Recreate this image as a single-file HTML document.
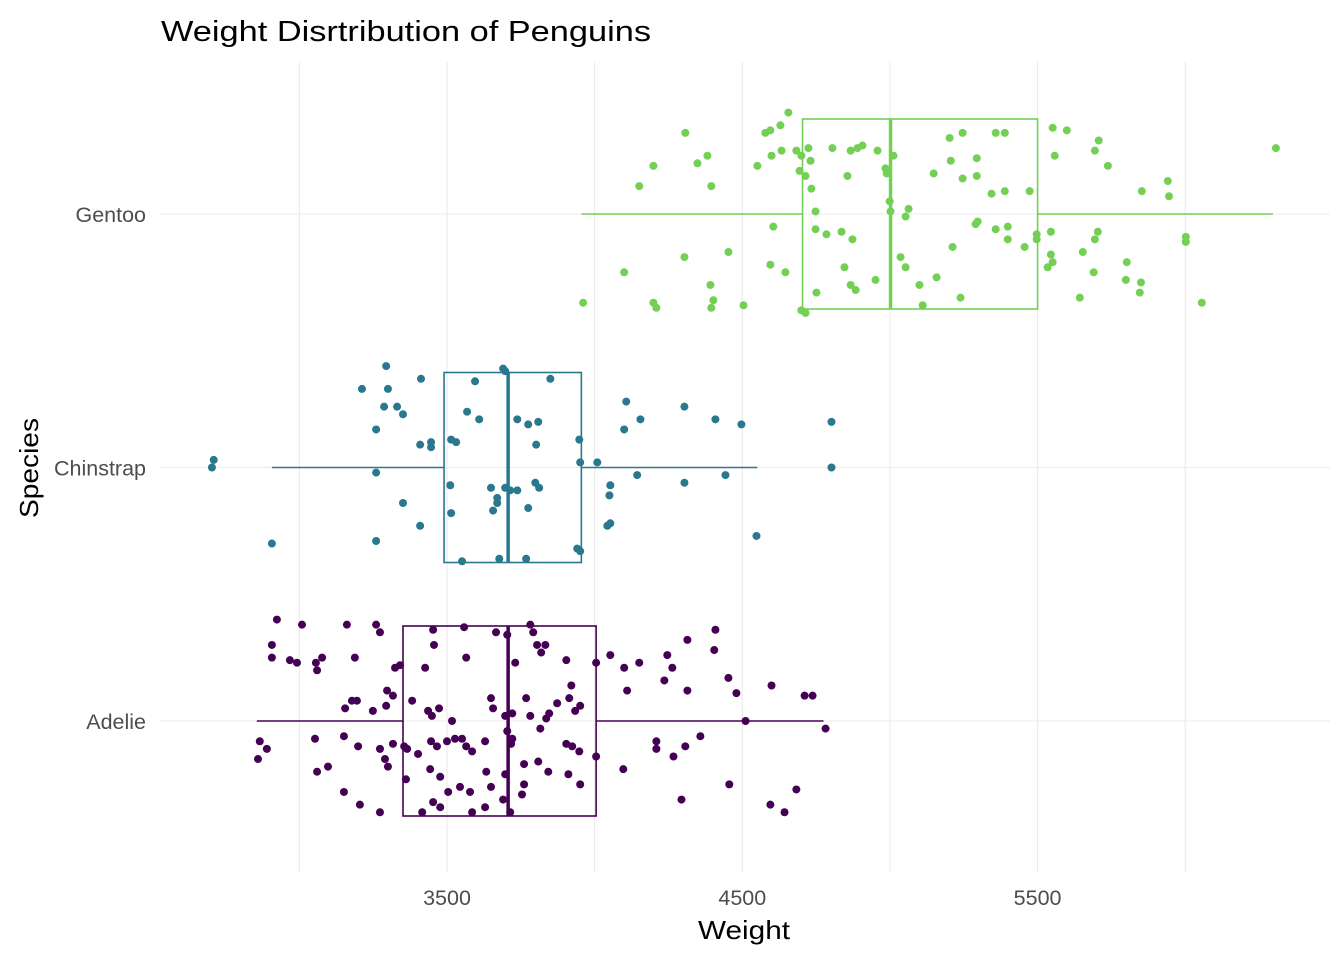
<!DOCTYPE html>
<html><head><meta charset="utf-8"><style>
html,body{margin:0;padding:0;background:#fff;}
svg text{font-family:"Liberation Sans",Arial,sans-serif;}
</style></head><body>
<svg id="chart" width="1344" height="960" xmlns="http://www.w3.org/2000/svg">
<text x="161" y="41" font-size="29" textLength="490" lengthAdjust="spacingAndGlyphs" fill="#000">Weight Disrtribution of Penguins</text>
<g id="grid"></g>
<g id="boxes"></g>
<g id="points"></g>
<g id="axes"></g>
<text x="698" y="939" font-size="26" textLength="92" lengthAdjust="spacingAndGlyphs" fill="#000">Weight</text>
<text transform="translate(38,518) rotate(-90)" font-size="26" textLength="100" lengthAdjust="spacingAndGlyphs" fill="#000">Species</text>
</svg>
<script>
const species = ["Adelie","Chinstrap","Gentoo"];
const colors = ["#440154","#2A788E","#73D055"];
const xTicks = [3500,4500,5500];
const xMinor = [3000,4000,5000,6000];
const boxLo = [2856,2907,3955];
const boxQ1 = [3351,3490,4704];
const boxMed = [3707,3707,5002];
const boxQ3 = [4005,3955,5500];
const boxHi = [4775,4551,6297];
const gentooW = [6307,4656,4629,4595,4578,4307,4199,4382,4348,4151,4395,4551,4599,4633,4683,4724,4700,4731,4805,4867,4890,4907,4958,4985,4989,5012,4999,5002,5053,4734,4748,4694,4714,4856,5148,5202,5246,5206,5246,5294,5358,5389,5294,5344,5389,5551,5599,5707,5558,5694,5738,5853,5941,5945,4748,4785,4836,4873,4605,4304,4453,4595,4646,4846,5036,5053,5158,5212,5290,5297,5358,5399,5399,5497,5497,5545,5456,5545,5551,5534,5653,5704,5694,5690,5802,5799,5850,5846,6002,6002,6056,5643,5239,5111,4951,4867,4884,4751,4700,4714,4504,4402,4395,4392,4209,4199,4100,3961,5473,5063,5100];
const gentooJ = [-0.26,-0.40,-0.35,-0.33,-0.32,-0.32,-0.19,-0.23,-0.20,-0.11,-0.11,-0.19,-0.23,-0.25,-0.25,-0.26,-0.23,-0.21,-0.26,-0.25,-0.26,-0.27,-0.25,-0.18,-0.16,-0.23,-0.05,-0.01,0.01,-0.10,-0.01,-0.17,-0.15,-0.15,-0.16,-0.30,-0.32,-0.21,-0.14,-0.15,-0.32,-0.32,-0.22,-0.08,-0.09,-0.34,-0.33,-0.29,-0.23,-0.25,-0.19,-0.09,-0.13,-0.07,0.06,0.08,0.07,0.10,0.05,0.17,0.15,0.20,0.23,0.21,0.17,0.21,0.25,0.13,0.04,0.03,0.06,0.10,0.05,0.08,0.10,0.07,0.13,0.16,0.19,0.21,0.15,0.07,0.10,0.23,0.19,0.26,0.27,0.31,0.09,0.11,0.35,0.33,0.33,0.36,0.26,0.28,0.30,0.31,0.38,0.39,0.36,0.34,0.37,0.28,0.37,0.35,0.23,0.35,-0.09,-0.02,0.28];
const chinW = [3294,3212,3300,3412,3331,3351,3260,3287,3409,3446,3446,3514,3531,3568,3595,3609,3690,3697,3738,3775,3809,3802,3850,3948,4107,4155,4100,4304,4409,4497,4802,4802,2710,2704,2907,3260,3260,3351,3409,3511,3514,3551,3649,3656,3670,3670,3697,3714,3738,3677,3768,3799,3812,3775,3951,3951,3941,4009,4053,4050,4053,4043,4144,4304,4443,4548];
const chinJ = [-0.40,-0.31,-0.31,-0.35,-0.24,-0.21,-0.15,-0.24,-0.09,-0.10,-0.08,-0.11,-0.10,-0.22,-0.34,-0.19,-0.39,-0.38,-0.19,-0.17,-0.18,-0.09,-0.35,-0.11,-0.26,-0.19,-0.15,-0.24,-0.19,-0.17,-0.18,0.00,-0.03,0.00,0.30,0.29,0.02,0.14,0.23,0.07,0.18,0.37,0.08,0.17,0.14,0.12,0.08,0.09,0.09,0.36,0.36,0.06,0.08,0.16,-0.02,0.33,0.32,-0.02,0.07,0.11,0.22,0.23,0.03,0.06,0.03,0.27];
const adelieW = [2924,3009,2907,2907,2968,2992,3056,3077,3060,3161,3260,3273,3188,3324,3341,3453,3456,3426,3558,3565,3666,3704,3782,3792,3805,3833,3819,3731,3904,3921,4005,4053,4100,4151,4246,4263,4314,4409,4405,4453,4480,4599,4711,4738,3155,3178,3195,3249,3297,3317,3294,3382,3436,3449,3473,3446,3466,3517,3500,3527,3551,3649,3656,3697,3721,3768,3782,3846,3836,3914,3934,3951,3873,3904,3924,3948,4005,3816,3717,3704,3721,3629,4110,4236,4314,4511,4782,2866,2890,2860,3053,3151,3199,3273,3317,3355,3402,3565,3585,3633,3697,3761,3809,3761,3843,3754,3649,3578,3544,3504,3443,3477,3453,3477,3361,3300,3290,3097,3060,3151,3205,3273,3416,3365,4097,4209,4209,4267,4307,4358,4456,4294,4595,4643,4683,3911,3951,3714,3690,3629,3585];
const adelieJ = [-0.40,-0.38,-0.30,-0.25,-0.24,-0.23,-0.23,-0.25,-0.20,-0.38,-0.38,-0.35,-0.25,-0.21,-0.22,-0.36,-0.30,-0.21,-0.37,-0.25,-0.35,-0.34,-0.38,-0.35,-0.30,-0.30,-0.27,-0.23,-0.24,-0.14,-0.23,-0.26,-0.21,-0.23,-0.26,-0.21,-0.32,-0.36,-0.28,-0.17,-0.11,-0.14,-0.10,-0.10,-0.05,-0.08,-0.08,-0.04,-0.12,-0.10,-0.06,-0.08,-0.04,-0.02,-0.05,0.08,0.10,0.00,0.08,0.07,0.07,-0.09,-0.05,-0.02,-0.03,-0.09,-0.02,-0.03,-0.01,-0.09,-0.04,-0.06,-0.07,0.09,0.10,0.12,0.14,0.03,0.09,0.04,0.07,0.08,-0.12,-0.16,-0.12,0.00,0.03,0.08,0.11,0.15,0.07,0.06,0.10,0.11,0.09,0.10,0.13,0.10,0.12,0.20,0.21,0.17,0.16,0.25,0.20,0.29,0.26,0.28,0.26,0.28,0.19,0.22,0.32,0.34,0.23,0.18,0.15,0.18,0.20,0.28,0.33,0.36,0.36,0.11,0.19,0.08,0.11,0.14,0.10,0.06,0.25,0.31,0.33,0.36,0.27,0.21,0.25,0.36,0.31,0.34,0.36];

const NS="http://www.w3.org/2000/svg";
const PL=160, PR=1330, PT=62, PB=872;
const xs = v => 447 + (v-3500)*0.2953;
const ys = i => 721 - i*253.5;
const JIT = 253.5;
function mk(parent, tag, attrs){const e=document.createElementNS(NS,tag);for(const k in attrs)e.setAttribute(k,attrs[k]);parent.appendChild(e);return e;}
const grid=document.getElementById('grid'), boxes=document.getElementById('boxes'), pts=document.getElementById('points'), axes=document.getElementById('axes');
xMinor.concat(xTicks).forEach(v=>{
  const l=mk(grid,'line',{x1:xs(v),x2:xs(v),y1:PT,y2:PB,stroke:'#ebebeb','stroke-width':1.1});
  
  
});
species.forEach((s,i)=>{
  const l=mk(grid,'line',{x1:PL,x2:PR,y1:ys(i),y2:ys(i),stroke:'#ebebeb','stroke-width':1.1});
  
  
  const t=mk(axes,'text',{x:146,y:ys(i)+8,'font-size':21.5,'text-anchor':'end',fill:'#4d4d4d'});
  t.textContent=s;
  
  
});
xTicks.forEach(v=>{
  const t=mk(axes,'text',{x:xs(v),y:905,'font-size':21.5,'text-anchor':'middle',fill:'#4d4d4d'});
  t.textContent=v;
  
  
});
species.forEach((s,i)=>{
  const c=colors[i], y=ys(i), h=95;
  const g=mk(boxes,'g',{});
  
  
  mk(g,'line',{x1:xs(boxLo[i]),x2:xs(boxQ1[i]),y1:y,y2:y,stroke:c,'stroke-width':1.6});
  mk(g,'line',{x1:xs(boxQ3[i]),x2:xs(boxHi[i]),y1:y,y2:y,stroke:c,'stroke-width':1.6});
  mk(g,'rect',{x:xs(boxQ1[i]),y:y-h,width:xs(boxQ3[i])-xs(boxQ1[i]),height:2*h,fill:'none',stroke:c,'stroke-width':1.6});
  mk(g,'line',{x1:xs(boxMed[i]),x2:xs(boxMed[i]),y1:y-h,y2:y+h,stroke:c,'stroke-width':3.5});
});
[[adelieW,adelieJ],[chinW,chinJ],[gentooW,gentooJ]].forEach((d,i)=>{
  d[0].forEach((w,k)=>{
    const p=mk(pts,'circle',{cx:xs(w),cy:ys(i)+d[1][k]*JIT,r:4,fill:colors[i]});
    
    
  });
});
</script>
</body></html>
